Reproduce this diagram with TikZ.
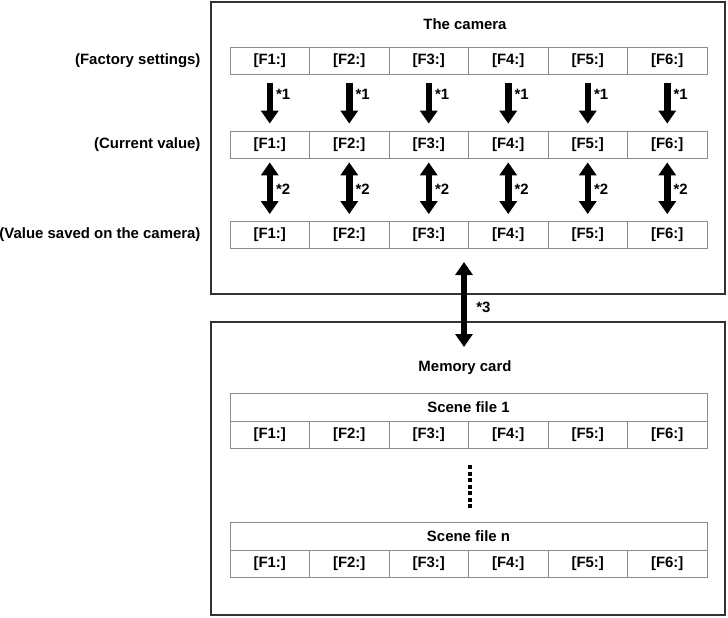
\documentclass[tikz,border=0pt]{standalone}
\usepackage{fontspec}
\setmainfont{Liberation Sans}
\usetikzlibrary{arrows.meta}

\tikzset{
    frame/.style={draw=black!80, line width=1.5bp, inner sep=0pt},
    cell/.style={draw=black!45, line width=0.8bp, minimum width=79.5bp,
        minimum height=27bp, inner sep=0pt},
    headcell/.style={cell, minimum width=477bp, minimum height=28bp},
    fatarrow/.style={line width=6.5bp, -{Triangle[width=17bp,length=13bp]}},
    fatduo/.style={line width=6.5bp, {Triangle[width=17bp,length=13bp]}-{Triangle[width=17bp,length=13bp]}},
    dotline/.style={line width=4bp, dash pattern=on 4bp off 2.5bp},
    mark1/.style={right=2bp, inner sep=1bp}
}

\begin{document}
\begin{tikzpicture}[
    x=1bp, y=-1bp,
    every node/.style={font=\fontsize{15}{18}\selectfont\bfseries}
]
\useasboundingbox (0,0) rectangle (728,618);

% Camera frame
\node[frame, minimum width=514bp, minimum height=292bp] (camera) at (468,148) {};
\node (camtitle) at (465,24) {The camera};

% Memory card frame
\node[frame, minimum width=514bp, minimum height=293bp] (card) at (468,468.5) {};
\node (cardtitle) at (465,368) {Memory card};

% Row labels
\node[anchor=east] (lfac) at (204,60.5) {(Factory settings)};
\node[anchor=east] (lcur) at (204,145) {(Current value)};
\node[anchor=east] (lsav) at (204,235) {(Value saved on the camera)};

% Scene file headers
\node[headcell] (s1h) at (468.5,407) {Scene file 1};
\node[headcell] (snh) at (468.5,536) {Scene file n};

% Cell rows
\foreach \i in {1,...,6} {
    \pgfmathsetmacro{\cx}{230+79.5*(\i-0.5)}
    \node[cell] (fac\i) at (\cx,60.5) {[F\i:]};
    \node[cell] (cur\i) at (\cx,144.5) {[F\i:]};
    \node[cell] (sav\i) at (\cx,235) {[F\i:]};
    \node[cell] (s1c\i) at (\cx,435) {[F\i:]};
    \node[cell] (snc\i) at (\cx,563.5) {[F\i:]};
}

% Arrows between rows
\foreach \i in {1,...,6} {
    \draw[fatarrow, shorten <=9bp, shorten >=7bp] (fac\i) -- (cur\i)
        node[pos=0.35, mark1] {*1};
    \draw[fatduo, shorten <=4bp, shorten >=7bp] (cur\i) -- (sav\i)
        node[pos=0.5, mark1] {*2};
}

% Camera <-> memory card
\coordinate (linktop) at (464,262);
\coordinate (linkbot) at (464,347);
\draw[fatduo] (linktop) -- (linkbot) node[pos=0.53, mark1, right=6bp] {*3};

% Dots between scene files
\coordinate (dottop) at (470,465);
\coordinate (dotbot) at (470,508);
\draw[dotline] (dottop) -- (dotbot);

\end{tikzpicture}
\end{document}
